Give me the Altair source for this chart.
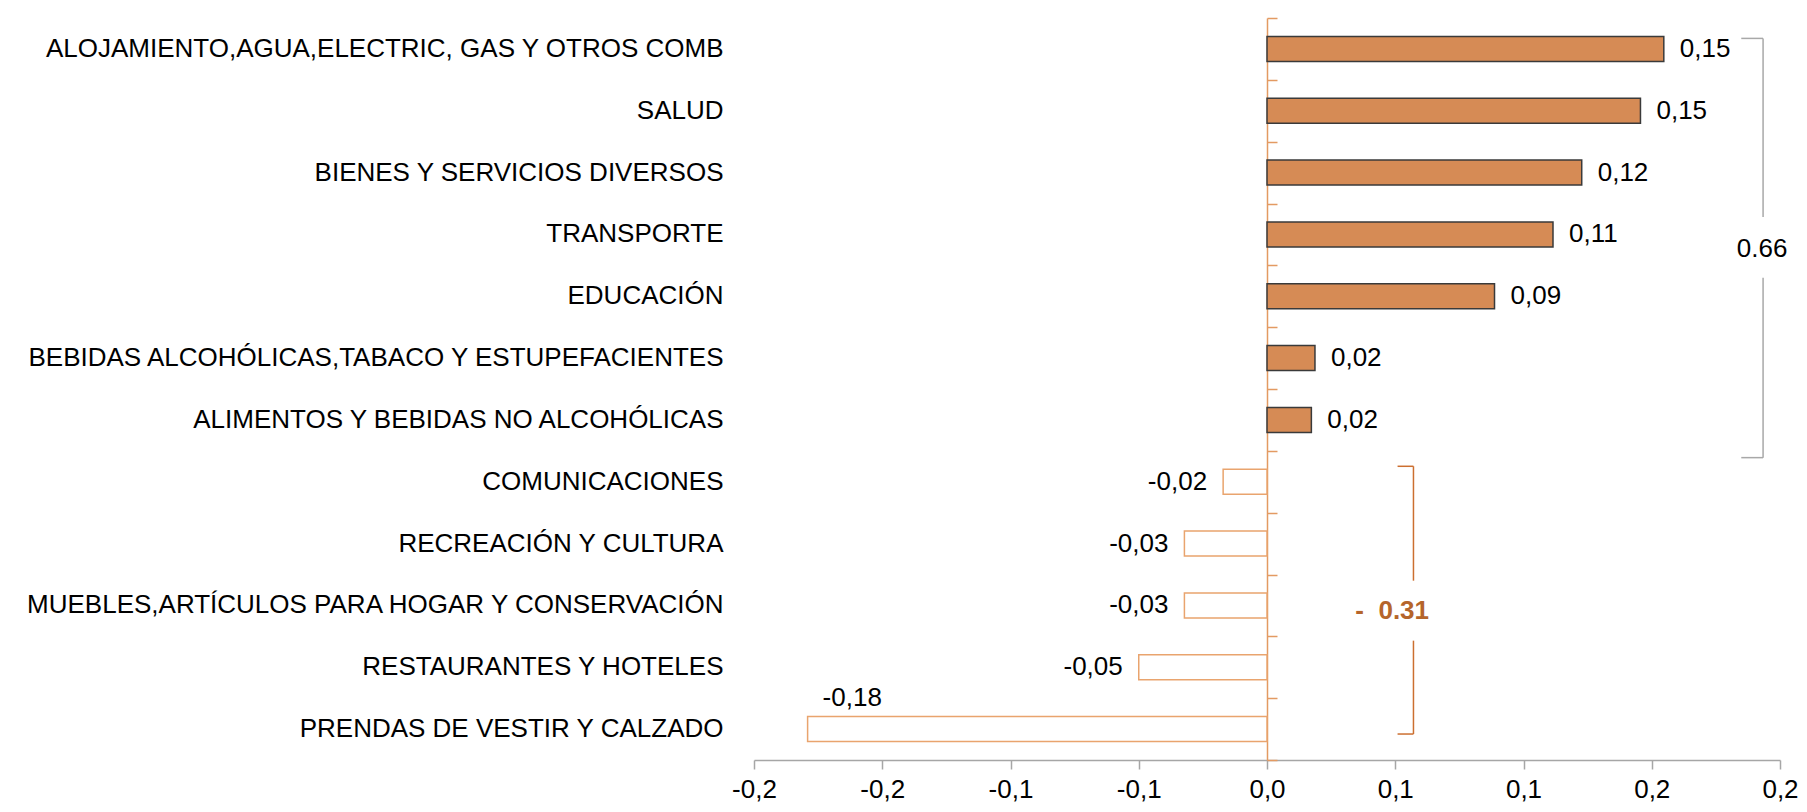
import json
import altair as alt
import pandas as pd

# ---------------- data ----------------
categories = [
    "ALOJAMIENTO,AGUA,ELECTRIC, GAS Y OTROS COMB",
    "SALUD",
    "BIENES Y SERVICIOS DIVERSOS",
    "TRANSPORTE",
    "EDUCACIÓN",
    "BEBIDAS ALCOHÓLICAS,TABACO Y ESTUPEFACIENTES",
    "ALIMENTOS Y BEBIDAS NO ALCOHÓLICAS",
    "COMUNICACIONES",
    "RECREACIÓN Y CULTURA",
    "MUEBLES,ARTÍCULOS PARA HOGAR Y CONSERVACIÓN",
    "RESTAURANTES Y HOTELES",
    "PRENDAS DE VESTIR Y CALZADO",
]
values = [0.1547, 0.1456, 0.1227, 0.1115, 0.0887, 0.0187, 0.0173,
          -0.0171, -0.0322, -0.0322, -0.0500, -0.1791]
value_labels = ["0,15", "0,15", "0,12", "0,11", "0,09", "0,02", "0,02",
                "-0,02", "-0,03", "-0,03", "-0,05", "-0,18"]

x_ticks = [-0.2, -0.15, -0.1, -0.05, 0.0, 0.05, 0.1, 0.15, 0.2]
x_tick_labels = ["-0,2", "-0,2", "-0,1", "-0,1", "0,0", "0,1", "0,1", "0,2", "0,2"]

# group totals shown next to the brackets
group_names = ["positivos", "negativos"]
group_totals = ["0.66", "-\u00a0\u00a00.31"]
# bracket geometry in (x value, row units; row i spans i..i+1)
bracket_x_outer = [0.1934, 0.0571]
bracket_x_inner = [0.1849, 0.0509]
bracket_top = [0.33, 7.25]
bracket_bottom = [7.11, 11.58]
bracket_gap_top = [3.22, 9.10]
bracket_gap_bottom = [4.20, 10.07]
bracket_label_x = [0.1930, 0.0488]
bracket_label_row = [3.73, 9.59]

# ---------------- styling ----------------
FONT = "Liberation Sans Narrow, Arial Narrow, Liberation Sans, Arial, sans-serif"
FS = 26
W, H = 1026, 742
ORANGE_AXIS = "#E39A62"
XDOM = [-0.2, 0.2]

df = pd.DataFrame({"cat": categories, "value": values, "label": value_labels})

seg_rows = []
for i, g in enumerate(group_names):
    xo, xi = bracket_x_outer[i], bracket_x_inner[i]
    seg_rows += [
        {"g": g, "x": xi, "x2": xo, "y": bracket_top[i], "y2": bracket_top[i]},
        {"g": g, "x": xi, "x2": xo, "y": bracket_bottom[i], "y2": bracket_bottom[i]},
        {"g": g, "x": xo, "x2": xo, "y": bracket_top[i], "y2": bracket_gap_top[i]},
        {"g": g, "x": xo, "x2": xo, "y": bracket_gap_bottom[i], "y2": bracket_bottom[i]},
    ]
seg_df = pd.DataFrame(seg_rows)
lab_df = pd.DataFrame({"g": group_names, "text": group_totals,
                       "x": bracket_label_x, "y": bracket_label_row})

xscale = alt.Scale(domain=XDOM, nice=False, zero=False)
yband = alt.Scale(paddingInner=0, paddingOuter=0)
yrow = alt.Scale(domain=[0, 12], reverse=True, nice=False, zero=False)

label_expr = json.dumps(x_tick_labels) + "[round((datum.value + 0.2) / 0.05)]"

x_axis = alt.Axis(values=x_ticks, labelExpr=label_expr, title=None, grid=False,
                  domainColor="#A6A6A6", domainWidth=1.5, tickColor="#A6A6A6",
                  tickWidth=1.5, tickSize=9, labelFont=FONT, labelFontSize=FS,
                  labelColor="black", labelPadding=7, labelFlush=False,
                  labelOverlap=False)
y_axis = alt.Axis(title=None, ticks=False, domain=False, labelFont=FONT,
                  labelFontSize=FS, labelColor="black", labelPadding=31,
                  labelLimit=0)

base = alt.Chart(df)
bars = base.mark_bar(size=25, strokeWidth=1.5).encode(
    y=alt.Y("cat:N", sort=None, scale=yband, axis=y_axis),
    x=alt.X("value:Q", scale=xscale, axis=x_axis),
    fill=alt.condition("datum.value > 0", alt.value("#D68B55"), alt.value("white")),
    stroke=alt.condition("datum.value > 0", alt.value("#3A3A3A"), alt.value("#E9A46E")),
)
txt_enc = dict(y=alt.Y("cat:N", sort=None, scale=yband),
               x=alt.X("value:Q", scale=xscale, axis=x_axis), text="label:N")
pos_lab = base.transform_filter("datum.value > 0").mark_text(
    align="left", baseline="middle", dx=16, font=FONT, fontSize=FS, color="black"
).encode(**txt_enc)
neg_lab = base.transform_filter("datum.value < 0 && datum.value > -0.1").mark_text(
    align="right", baseline="middle", dx=-16, font=FONT, fontSize=FS, color="black"
).encode(**txt_enc)
big_lab = base.transform_filter("datum.value <= -0.1").mark_text(
    align="left", baseline="middle", dx=15, dy=-31, font=FONT, fontSize=FS, color="black"
).encode(**txt_enc)

main = alt.layer(bars, pos_lab, neg_lab, big_lab)

zero_axis = alt.Axis(orient="right", offset=-W / 2, title=None, labels=False,
                     grid=False, domainColor=ORANGE_AXIS, domainWidth=1.5,
                     tickColor=ORANGE_AXIS, tickWidth=1.5, tickSize=10,
                     values=[i / 2 for i in range(25)])

segs = alt.Chart(seg_df).mark_rule(strokeWidth=1.5).encode(
    x=alt.X("x:Q", scale=xscale, axis=x_axis),
    x2="x2:Q",
    y=alt.Y("y:Q", scale=yrow, axis=zero_axis),
    y2="y2:Q",
    color=alt.Color("g:N", scale=alt.Scale(domain=group_names,
                                           range=["#A8A8A8", "#CC6F30"]), legend=None),
)
tot_pos = alt.Chart(lab_df).transform_filter(alt.datum.g == "positivos").mark_text(
    align="center", baseline="middle", font=FONT, fontSize=FS, color="black"
).encode(x=alt.X("x:Q", scale=xscale, axis=x_axis), y=alt.Y("y:Q", scale=yrow), text="text:N")
tot_neg = alt.Chart(lab_df).transform_filter(alt.datum.g == "negativos").mark_text(
    align="center", baseline="middle", font=FONT, fontSize=FS, fontWeight="bold",
    color="#B5652B"
).encode(x=alt.X("x:Q", scale=xscale, axis=x_axis), y=alt.Y("y:Q", scale=yrow), text="text:N")

annot = alt.layer(segs, tot_pos, tot_neg)

chart = alt.layer(main, annot).resolve_scale(y="independent").properties(
    width=W, height=H,
    autosize=alt.AutoSizeParams(type="none"),
    padding={"left": 746, "top": 10, "right": 19, "bottom": 44},
    background="white",
).configure_view(stroke=None)

chart.save("out.html", embed_options={"renderer": "svg", "actions": False})
